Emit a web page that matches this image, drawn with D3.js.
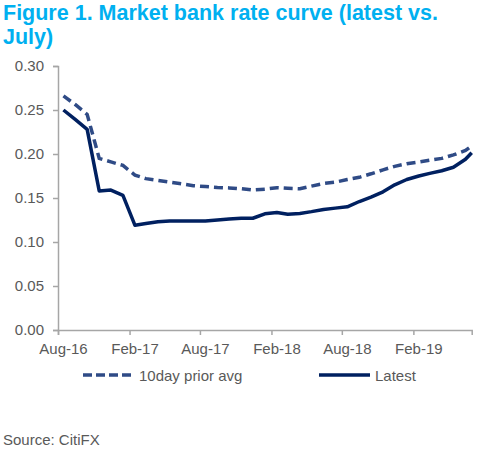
<!DOCTYPE html>
<html>
<head>
<meta charset="utf-8">
<script src="https://cdn.jsdelivr.net/npm/d3@7"></script>
<style>
  body { margin: 0; background: #fff; }
  svg { display: block; font-family: "Liberation Sans", Arial, sans-serif; }
</style>
</head>
<body>
<svg width="478" height="455"></svg>
<script>
// Dates of the observations (mid-month)
var dates = [
    "2016-08-15", "2016-09-15", "2016-10-15", "2016-11-15", "2016-12-15",
    "2017-01-15", "2017-02-15", "2017-03-15", "2017-04-15", "2017-05-15",
    "2017-06-15", "2017-07-15", "2017-08-15", "2017-09-15", "2017-10-15",
    "2017-11-15", "2017-12-15", "2018-01-15", "2018-02-15", "2018-03-15",
    "2018-04-15", "2018-05-15", "2018-06-15", "2018-07-15", "2018-08-15",
    "2018-09-15", "2018-10-15", "2018-11-15", "2018-12-15", "2019-01-15",
    "2019-02-15", "2019-03-15", "2019-04-15", "2019-05-15", "2019-06-15",
    "2019-07-01"
];

// 10day prior avg
var prior = [
    0.266, 0.256, 0.245, 0.195, 0.191,
    0.187, 0.176, 0.172, 0.170, 0.168,
    0.166, 0.164, 0.163, 0.162, 0.1615,
    0.1605, 0.159, 0.160, 0.1617, 0.161,
    0.1605, 0.1635, 0.1665, 0.168, 0.171,
    0.1735, 0.1775, 0.182, 0.186, 0.189,
    0.191, 0.193, 0.195, 0.199, 0.204,
    0.209
];

// Latest
var latest = [
    0.250, 0.239, 0.228, 0.158, 0.159,
    0.153, 0.119, 0.121, 0.123, 0.124,
    0.124, 0.124, 0.124, 0.125, 0.126,
    0.127, 0.127, 0.132, 0.1335, 0.1315,
    0.1325, 0.1345, 0.137, 0.1385, 0.140,
    0.146, 0.151, 0.157, 0.165, 0.171,
    0.175, 0.178, 0.181, 0.185, 0.194,
    0.2015
];

var xTickLabels = [ "Aug-16", "Feb-17", "Aug-17", "Feb-18", "Aug-18", "Feb-19" ];
var yTicks = [ 0, 0.05, 0.10, 0.15, 0.20, 0.25, 0.30 ];

var seriesNames = [ "10day prior avg", "Latest" ];

var parseDate  = d3.timeParse( "%Y-%m-%d" );
var parseTick  = d3.timeParse( "%b-%y" );

var textGrey = "#595959";
var axisGrey = "#a6a6a6";
var titleBlue = "#00b0f0";
var priorColor = "#2f4b86";
var latestColor = "#002060";

var svg = d3.select( "svg" );

// Title
var title = svg.append( "text" )
    .attr( "fill", titleBlue )
    .attr( "font-weight", "bold" )
    .attr( "font-size", "21.5px" );
title.append( "tspan" ).attr( "x", 3 ).attr( "y", 20 ).text( "Figure 1. Market bank rate curve (latest vs." );
title.append( "tspan" ).attr( "x", 3 ).attr( "y", 44 ).text( "July)" );

// Scales
var x = d3.scaleTime()
    .domain([ parseDate( "2016-08-01" ), parseDate( "2019-07-01" ) ])
    .range([ 58, 471.7 ]);
var y = d3.scaleLinear()
    .domain([ 0, 0.30 ])
    .range([ 330, 66 ]);

// Y axis
var yAxis = svg.append( "g" )
    .attr( "transform", "translate(" + x.range()[0] + ",0)" )
    .call( d3.axisLeft( y ).tickValues( yTicks ).tickFormat( d3.format( ".2f" ) ).tickSize( 5 ).tickPadding( 9 ) );

// X axis
var xAxis = svg.append( "g" )
    .attr( "transform", "translate(0," + y( 0 ) + ")" )
    .call( d3.axisBottom( x )
        .tickValues( xTickLabels.map( parseTick ) )
        .tickFormat( d3.timeFormat( "%b-%y" ) )
        .tickSize( 5 ).tickPadding( 8 ) );

[ yAxis, xAxis ].forEach( function( g ) {
    g.select( ".domain" ).attr( "stroke", axisGrey ).attr( "stroke-width", 1.5 );
    g.selectAll( ".tick line" ).attr( "stroke", axisGrey ).attr( "stroke-width", 1.5 );
    g.selectAll( ".tick text" )
     .attr( "fill", textGrey )
     .attr( "font-size", "15px" )
     .attr( "font-family", "'Liberation Sans', Arial, sans-serif" );
});
xAxis.selectAll( ".tick text" ).attr( "dx", 5 );

// Lines
var rows = dates.map( function( d, i ) {
    return { date: parseDate( d ), prior: prior[i], latest: latest[i] };
});

function makeLine( key ) {
    return d3.line()
        .x( function( d ) { return x( d.date ); } )
        .y( function( d ) { return y( d[key] ); } );
}

svg.append( "path" )
   .datum( rows )
   .attr( "fill", "none" )
   .attr( "stroke", priorColor )
   .attr( "stroke-width", 3.5 )
   .attr( "stroke-dasharray", "9,5" )
   .attr( "d", makeLine( "prior" ) );

svg.append( "path" )
   .datum( rows )
   .attr( "fill", "none" )
   .attr( "stroke", latestColor )
   .attr( "stroke-width", 3.5 )
   .attr( "stroke-linejoin", "round" )
   .attr( "d", makeLine( "latest" ) );

// Legend
var legend = [
    { name: seriesNames[0], color: priorColor, dash: "9,4", x0: 83, x1: 134 },
    { name: seriesNames[1], color: latestColor, dash: null, x0: 319, x1: 370 }
];
var legendY = 375;
legend.forEach( function( l ) {
    svg.append( "line" )
       .attr( "x1", l.x0 ).attr( "x2", l.x1 )
       .attr( "y1", legendY ).attr( "y2", legendY )
       .attr( "stroke", l.color )
       .attr( "stroke-width", 3.5 )
       .attr( "stroke-dasharray", l.dash );
    svg.append( "text" )
       .attr( "x", l.x1 + 5 )
       .attr( "y", legendY + 5.5 )
       .attr( "fill", textGrey )
       .attr( "font-size", "15px" )
       .text( l.name );
});

// Source
svg.append( "text" )
   .attr( "x", 3 )
   .attr( "y", 445 )
   .attr( "fill", textGrey )
   .attr( "font-size", "15px" )
   .text( "Source: CitiFX" );
</script>
</body>
</html>
